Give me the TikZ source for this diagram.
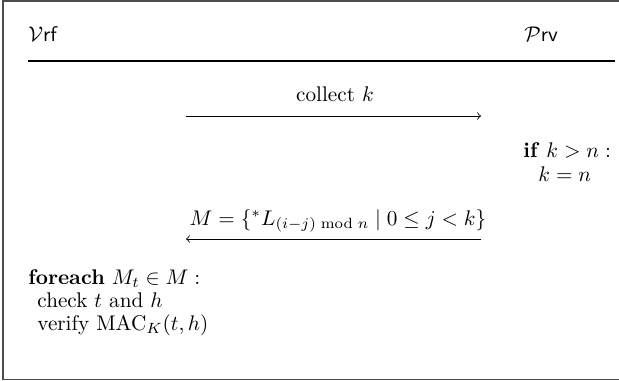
\documentclass[tikz,border=0pt]{standalone}
\usepackage{amsmath,amssymb}
\begin{document}
\begin{tikzpicture}[x=0.472pt,y=-0.472pt,
  txt/.style={inner sep=0pt,anchor=base west},
  lbl/.style={inner sep=0pt,anchor=base},
  msg/.style={->,line width=0.4pt}]
\useasboundingbox (0,0) rectangle (619,381);
\clip (0,0) rectangle (619,381);
\draw[line width=0.7pt,black!70] (3,1) rectangle (660,379.5);
\node[txt] (vrf) at (28,42) {$\mathcal{V}$\textsf{rf}};
\node[txt] (prv) at (524,42) {$\mathcal{P}$\textsf{rv}};
\coordinate (hl) at (28,61);
\coordinate (hr) at (615,61);
\draw[line width=0.5pt] (hl) -- (hr);
\coordinate (a1s) at (186,116);
\coordinate (a1e) at (481,116);
\draw[msg] (a1s) -- (a1e);
\node[lbl] (m1) at (335,101.5) {collect $k$};
\node[txt] (if1) at (523,158) {\textbf{if} $k>n:$};
\node[txt] (if2) at (538,182) {$k=n$};
\coordinate (a2s) at (481,239);
\coordinate (a2e) at (186,239);
\draw[msg] (a2s) -- (a2e);
\node[lbl] (m2) at (338,225) {$M=\{{}^{*}L_{(i-j)\bmod n}\mid 0\le j<k\}$};
\node[txt] (f1) at (28,284) {\textbf{foreach} $M_t\in M:$};
\node[txt] (f2) at (37,307) {check $t$ and $h$};
\node[txt] (f3) at (37,330) {verify $\mathrm{MAC}_K(t,h)$};
\end{tikzpicture}
\end{document}
